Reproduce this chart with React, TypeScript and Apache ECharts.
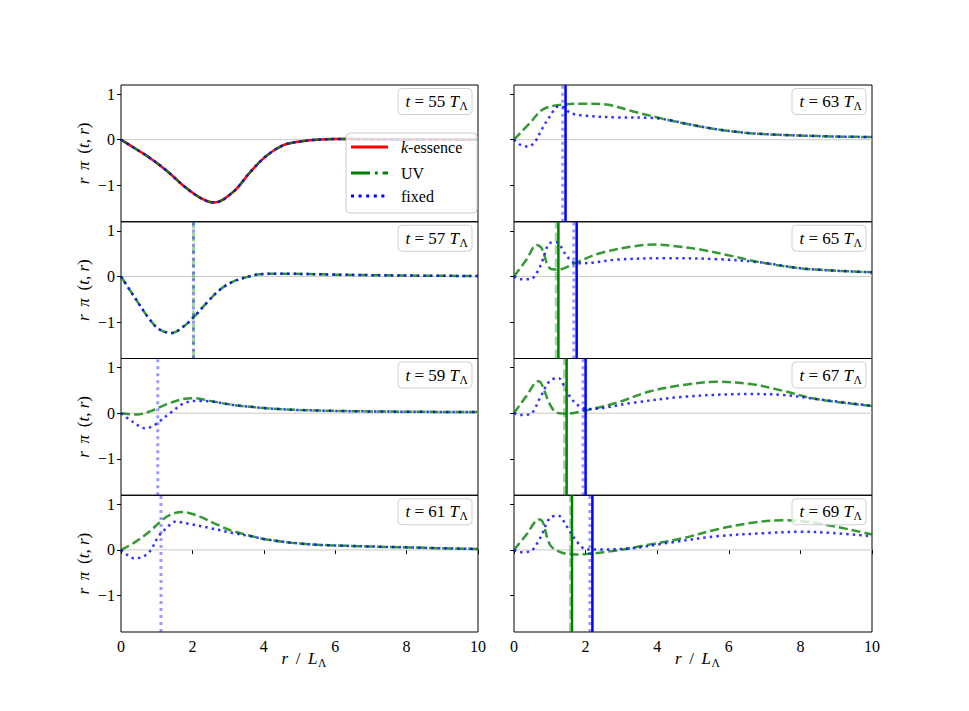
import React, { useEffect, useRef } from 'react';
import * as echarts from 'echarts';

// ---------- data ----------
const xTicks = [0, 2, 4, 6, 8, 10];
const yTicks = [-1, 0, 1];
const times = [55, 57, 59, 61, 63, 65, 67, 69];
const legendLabels = ['k-essence', 'UV', 'fixed'];

// t = 55 : all three solutions coincide
const pi55: number[][] = [
  [0, 0], [0.35, -0.17], [0.81, -0.4], [1.28, -0.68], [1.75, -1.01], [2.21, -1.27],
  [2.61, -1.38], [3.15, -1.14], [3.61, -0.72], [4.08, -0.35], [4.55, -0.12],
  [5.01, -0.04], [5.48, 0.0], [6.0, 0.015], [7.0, 0.01], [8.0, 0.005], [10, 0],
];
// t = 57 : UV and fixed coincide
const pi57: number[][] = [
  [0, 0], [0.35, -0.42], [0.81, -0.95], [1.09, -1.17], [1.42, -1.24], [1.75, -1.1],
  [2.05, -0.88], [2.4, -0.58], [2.77, -0.29], [3.15, -0.11], [3.52, -0.015],
  [3.9, 0.05], [4.55, 0.06], [6, 0.04], [8, 0.02], [10, 0.01],
];
const uv59: number[][] = [
  [0, 0], [0.43, -0.03], [0.81, 0.04], [1.28, 0.2], [1.75, 0.31], [2.07, 0.33],
  [2.49, 0.27], [3.15, 0.18], [4.08, 0.11], [5.0, 0.07], [6.9, 0.04], [10, 0.025],
];
const fixed59: number[][] = [
  [0, 0], [0.35, -0.2], [0.67, -0.33], [0.9, -0.28], [1.09, -0.17], [1.37, 0.0],
  [1.75, 0.21], [2.1, 0.27], [2.49, 0.26], [3.15, 0.18], [4.08, 0.11], [5.0, 0.07],
  [6.9, 0.04], [10, 0.025],
];
const uv61: number[][] = [
  [0, 0], [0.35, 0.15], [0.81, 0.41], [1.19, 0.68], [1.47, 0.8], [1.75, 0.83],
  [2.21, 0.73], [2.68, 0.56], [3.15, 0.41], [4.08, 0.23], [5.01, 0.14], [5.95, 0.1],
  [7.8, 0.06], [10, 0.02],
];
const fixed61: number[][] = [
  [0, 0], [0.16, -0.1], [0.35, -0.18], [0.58, -0.16], [0.81, -0.03], [1.05, 0.3],
  [1.28, 0.48], [1.51, 0.62], [1.93, 0.57], [2.49, 0.48], [3.15, 0.37], [3.7, 0.29],
  [4.08, 0.23], [5.01, 0.14], [5.95, 0.1], [7.8, 0.06], [10, 0.02],
];
const uv63: number[][] = [
  [0, 0], [0.45, 0.37], [0.82, 0.67], [1.38, 0.77], [2.03, 0.79], [2.59, 0.77],
  [3.33, 0.62], [4.26, 0.44], [5.2, 0.29], [6.13, 0.18], [7.06, 0.12], [8.92, 0.07],
  [10, 0.06],
];
const fixed63: number[][] = [
  [0, 0], [0.17, -0.11], [0.4, -0.15], [0.59, -0.04], [0.77, 0.22], [1.0, 0.51],
  [1.24, 0.73], [1.42, 0.7], [1.56, 0.59], [1.94, 0.53], [2.87, 0.49], [3.8, 0.48],
  [4.26, 0.44], [5.2, 0.29], [6.13, 0.18], [7.06, 0.12], [8.92, 0.07], [10, 0.06],
];
const uv65: number[][] = [
  [0, 0], [0.35, 0.37], [0.63, 0.69], [0.77, 0.62], [1.0, 0.18], [1.24, 0.15],
  [1.75, 0.31], [2.4, 0.51], [3.33, 0.66], [3.89, 0.7], [4.45, 0.67], [5.2, 0.59],
  [6.13, 0.44], [6.87, 0.31], [7.99, 0.18], [8.92, 0.13], [10, 0.09],
];
const fixed65: number[][] = [
  [0, 0], [0.17, -0.06], [0.45, -0.06], [0.73, 0.22], [1.0, 0.73], [1.19, 0.75],
  [1.42, 0.51], [1.66, 0.31], [1.94, 0.29], [2.87, 0.37], [4.26, 0.4], [5.66, 0.38],
  [6.87, 0.31], [7.99, 0.18], [8.92, 0.13], [10, 0.09],
];
const uv67: number[][] = [
  [0, 0], [0.35, 0.38], [0.68, 0.7], [0.77, 0.64], [1.0, 0.2], [1.19, 0.015],
  [1.47, -0.01], [1.94, 0.05], [2.87, 0.23], [3.8, 0.48], [4.73, 0.62], [5.66, 0.69],
  [6.6, 0.64], [7.52, 0.49], [8.45, 0.31], [10, 0.16],
];
const fixed67: number[][] = [
  [0, 0], [0.17, -0.04], [0.45, -0.02], [0.73, 0.34], [1.0, 0.71], [1.24, 0.77],
  [1.42, 0.56], [1.61, 0.31], [1.85, 0.14], [2.08, 0.09], [3.33, 0.23], [4.73, 0.36],
  [6.6, 0.42], [7.52, 0.4], [8.45, 0.31], [10, 0.16],
];
const uv69: number[][] = [
  [0, 0], [0.35, 0.34], [0.7, 0.67], [0.8, 0.62], [1.0, 0.12], [1.24, -0.03],
  [1.66, -0.1], [2.03, -0.09], [2.87, -0.01], [3.8, 0.12], [4.73, 0.26], [5.66, 0.45],
  [6.6, 0.59], [7.52, 0.65], [8.45, 0.59], [10, 0.34],
];
const fixed69: number[][] = [
  [0, 0], [0.17, -0.05], [0.45, -0.03], [0.73, 0.26], [1.0, 0.7], [1.24, 0.75],
  [1.47, 0.52], [1.75, 0.19], [2.03, 0.01], [2.4, 0.01], [3.33, 0.04], [4.26, 0.15],
  [5.66, 0.3], [7.06, 0.37], [7.99, 0.4], [8.92, 0.37], [10, 0.3],
];

const kessence: (number[][] | null)[] = [pi55, null, null, null, null, null, null, null];
const uvCurves = [pi55, pi57, uv59, uv61, uv63, uv65, uv67, uv69];
const fixedCurves = [pi55, pi57, fixed59, fixed61, fixed63, fixed65, fixed67, fixed69];

// vertical markers (positions in r / L_Lambda), null = none
const uvFront: (number | null)[] = [null, null, null, null, null, 1.24, 1.47, 1.62];
const fixedFront: (number | null)[] = [null, null, null, null, 1.44, 1.75, 2.0, 2.19];
const uvTrail: (number | null)[] = [null, 2.03, null, null, null, 1.18, 1.41, 1.58];
const fixedTrail: (number | null)[] = [null, 2.03, 1.03, 1.12, 1.36, 1.67, 1.93, 2.12];

// ---------- layout ----------
const colLeft = [121, 514];
const colWidth = [357, 358];
const rowTop = [85, 221.75, 358.5, 495.25];
const rowH = 136.75;
const Y_MIN = -1.8;
const Y_MAX = 1.2;
const FONT = 'Liberation Serif, DejaVu Serif, serif';
const FS = 16;
const FS_BOX = 17;

const GREEN = 'rgba(0,128,0,0.8)';
const BLUE = 'rgba(0,0,255,0.8)';

const italic = { fontStyle: 'italic', fontFamily: FONT, fontSize: FS, fill: '#000' };
const italicBox = { fontStyle: 'italic', fontFamily: FONT, fontSize: FS_BOX, fill: '#000' };

function buildOption() {
  const grid: any[] = [];
  const xAxis: any[] = [];
  const yAxis: any[] = [];
  const series: any[] = [];
  const graphic: any[] = [];

  times.forEach((t, p) => {
    const col = Math.floor(p / 4);
    const row = p % 4;
    const left = colLeft[col];
    const top = rowTop[row];
    const width = colWidth[col];
    grid.push({
      left, top, width, height: rowH,
      show: true, borderColor: '#000', borderWidth: 1, backgroundColor: 'transparent',
      containLabel: false,
    });
    const bottomRow = row === 3;
    xAxis.push({
      type: 'value', gridIndex: p, min: 0, max: 10, interval: 2,
      axisLine: { show: false },
      splitLine: { show: false },
      axisTick: { show: bottomRow, length: 4, lineStyle: { color: '#000', width: 1 } },
      axisLabel: {
        show: bottomRow, margin: 6, fontFamily: FONT, fontSize: FS, color: '#000',
        customValues: xTicks,
      },
    });
    yAxis.push({
      type: 'value', gridIndex: p, min: Y_MIN, max: Y_MAX,
      axisLine: { show: false },
      splitLine: { show: false },
      axisTick: { show: true, length: 4, customValues: yTicks, lineStyle: { color: '#000', width: 1 } },
      axisLabel: {
        show: col === 0, margin: 6, fontFamily: FONT, fontSize: FS, color: '#000',
        customValues: yTicks,
        formatter: (v: number) => (v < 0 ? '\u2212' + Math.abs(v) : String(v)),
      },
    });

    const base = { type: 'line', xAxisIndex: p, yAxisIndex: p, showSymbol: false, silent: true, animation: false };
    series.push({ ...base, data: [[0, 0], [10, 0]], lineStyle: { color: '#c8c8c8', width: 1 } });
    const ke = kessence[p];
    if (ke) series.push({ ...base, data: ke, smooth: 0.35, lineStyle: { color: '#ff0000', width: 2.5 } });
    series.push({ ...base, data: uvCurves[p], smooth: 0.35, lineStyle: { color: GREEN, width: 2.5, type: [9, 4], cap: 'butt' } });
    series.push({ ...base, data: fixedCurves[p], smooth: 0.35, lineStyle: { color: BLUE, width: 2.5, type: [2.5, 4], cap: 'butt' } });

    const ut = uvTrail[p];
    if (ut !== null) series.push({ ...base, data: [[ut, Y_MIN], [ut, Y_MAX]], lineStyle: { color: 'rgba(0,128,0,0.35)', width: 3, type: [9, 4], cap: 'butt' } });
    const ft = fixedTrail[p];
    if (ft !== null) series.push({ ...base, data: [[ft, Y_MIN], [ft, Y_MAX]], lineStyle: { color: 'rgba(0,0,255,0.4)', width: 3, type: [3, 4], cap: 'butt' } });
    const uf = uvFront[p];
    if (uf !== null) series.push({ ...base, data: [[uf, Y_MIN], [uf, Y_MAX]], lineStyle: { color: '#008000', width: 2.5 } });
    const ff = fixedFront[p];
    if (ff !== null) series.push({ ...base, data: [[ff, Y_MIN], [ff, Y_MAX]], lineStyle: { color: '#0000ff', width: 2.5 } });

    // time label box
    const boxR = left + width - 6;
    const boxT = top + 3.5;
    graphic.push({
      type: 'rect', z: 100, silent: true,
      shape: { x: boxR - 74, y: boxT, width: 74, height: 26, r: 4 },
      style: { fill: 'rgba(255,255,255,0.8)', stroke: '#d0d0d0', lineWidth: 1 },
    });
    graphic.push({
      type: 'text', z: 101, silent: true, x: boxR - 13, y: boxT + 13,
      style: {
        text: `{i|t} = ${t} {i|T}`, align: 'right', verticalAlign: 'middle',
        rich: { i: italicBox }, fontFamily: FONT, fontSize: FS_BOX, fill: '#000',
      },
    });
    graphic.push({
      type: 'text', z: 101, silent: true, x: boxR - 12.5, y: boxT + 17.5,
      style: { text: '\u039b', align: 'left', verticalAlign: 'middle', fontFamily: FONT, fontSize: 11.5, fill: '#000' },
    });

    // y axis label
    if (col === 0) {
      graphic.push({
        type: 'text', z: 101, silent: true, x: 83, y: top + rowH / 2, rotation: Math.PI / 2,
        style: {
          text: '{i|r}\u2009 {i|\u03c0}\u2009 ({i|t}, {i|r})', align: 'center', verticalAlign: 'middle',
          rich: { i: italicBox }, fontFamily: FONT, fontSize: FS_BOX, fill: '#000',
        },
      });
    }
  });

  // x axis labels
  [0, 1].forEach((c) => {
    const cx = colLeft[c] + colWidth[c] / 2;
    graphic.push({
      type: 'text', z: 101, silent: true, x: cx + 18, y: 658,
      style: {
        text: '{i|r}\u2009 /\u2009 {i|L}', align: 'right', verticalAlign: 'middle',
        rich: { i: italicBox }, fontFamily: FONT, fontSize: FS_BOX, fill: '#000',
      },
    });
    graphic.push({
      type: 'text', z: 101, silent: true, x: cx + 18.5, y: 662.5,
      style: { text: '\u039b', align: 'left', verticalAlign: 'middle', fontFamily: FONT, fontSize: 11.5, fill: '#000' },
    });
  });

  // legend in first panel
  const lx = 346, ly = 133;
  graphic.push({
    type: 'rect', z: 100, silent: true,
    shape: { x: lx, y: ly, width: 131, height: 80, r: 4 },
    style: { fill: 'rgba(255,255,255,0.8)', stroke: '#cccccc', lineWidth: 1 },
  });
  const legY = [147, 173, 196];
  const legStyles = [
    { stroke: '#ff0000', lineWidth: 3 },
    { stroke: '#008000', lineWidth: 3, lineDash: [19, 4.8, 3, 4.8], lineCap: 'butt' },
    { stroke: '#0000ff', lineWidth: 3, lineDash: [3, 4.6], lineCap: 'butt' },
  ];
  legendLabels.forEach((lab, i) => {
    graphic.push({
      type: 'line', z: 101, silent: true,
      shape: { x1: lx + 5, y1: legY[i], x2: lx + 42, y2: legY[i] },
      style: legStyles[i],
    });
    const txt = i === 0 ? '{i|k}-essence' : lab;
    graphic.push({
      type: 'text', z: 101, silent: true, x: lx + 55, y: legY[i],
      style: {
        text: txt, align: 'left', verticalAlign: 'middle',
        rich: { i: italic }, fontFamily: FONT, fontSize: FS, fill: '#000',
      },
    });
  });

  return {
    animation: false,
    backgroundColor: '#ffffff',
    grid, xAxis, yAxis, series, graphic,
  };
}

export default function App() {
  const ref = useRef<HTMLDivElement>(null);
  useEffect(() => {
    if (!ref.current) return;
    const chart = echarts.init(ref.current, undefined, { renderer: 'svg' });
    chart.setOption(buildOption() as any);
    return () => chart.dispose();
  }, []);
  return (
    <div
      ref={ref}
      style={{ position: 'absolute', left: 0, top: 0, width: 969, height: 711, background: '#fff' }}
    />
  );
}
